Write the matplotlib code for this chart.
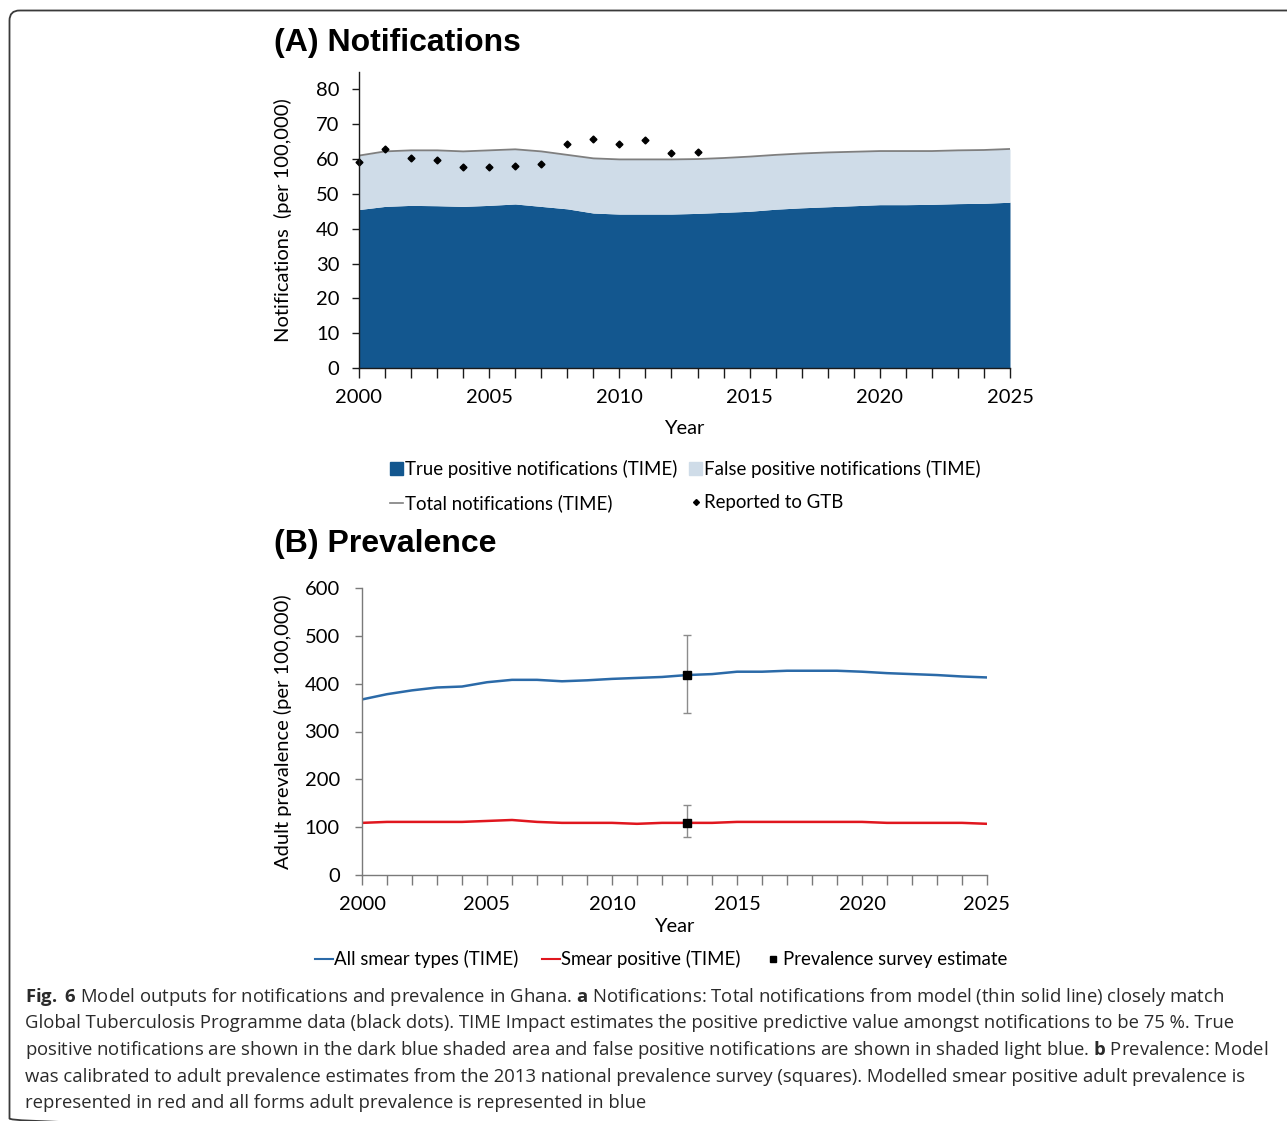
import matplotlib
matplotlib.use('Agg')
import matplotlib.pyplot as plt
from matplotlib.patches import FancyBboxPatch, Patch
from matplotlib.lines import Line2D

W, H = 1287, 1121

# ---- data ----
years = list(range(2000, 2026))
total_notif = [61.0, 62.2, 62.5, 62.5, 62.2, 62.5, 62.8, 62.2, 61.2, 60.2, 59.9, 59.9, 59.9,
               60.0, 60.3, 60.7, 61.2, 61.6, 61.9, 62.1, 62.3, 62.3, 62.3, 62.5, 62.6, 62.9]
true_pos = [45.5, 46.4, 46.7, 46.6, 46.4, 46.7, 47.1, 46.4, 45.7, 44.5, 44.2, 44.2, 44.2,
            44.4, 44.7, 45.0, 45.6, 46.0, 46.3, 46.6, 46.9, 46.9, 47.0, 47.2, 47.3, 47.6]
gtb_years = list(range(2000, 2014))
gtb_reported = [59.1, 62.9, 60.2, 59.7, 57.8, 57.8, 58.1, 58.7, 64.2, 65.9, 64.2, 65.6, 61.8, 62.1]

all_smear = [367, 378, 386, 392, 394, 403, 408, 408, 405, 407, 410, 412, 414,
             418, 420, 425, 425, 427, 427, 427, 425, 422, 420, 418, 415, 413]
smear_pos = [109, 111, 111, 111, 111, 113, 115, 111, 109, 109, 109, 107, 109,
             109, 109, 111, 111, 111, 111, 111, 111, 109, 109, 109, 109, 107]
survey_year = 2013
survey_all = [418, 338, 501]   # estimate, low, high
survey_pos = [109, 79, 147]

tick_labels = [str(y) if y % 5 == 0 else '' for y in years]

dark_blue = '#13578f'
light_blue = '#cfdce8'
line_blue = '#2b6aa8'
line_red = '#e0161e'

plt.rcParams['font.family'] = ['Lato', 'DejaVu Sans']
plt.rcParams['mathtext.fontset'] = 'custom'
plt.rcParams['mathtext.rm'] = 'Open Sans'
plt.rcParams['mathtext.bf'] = 'Open Sans:bold'

fig = plt.figure(figsize=(W / 100, H / 100), dpi=100)

# overlay in pixel coords for border + caption
bg = fig.add_axes([0, 0, 1, 1])
bg.set_xlim(0, W)
bg.set_ylim(H, 0)
bg.axis('off')
bg.add_patch(FancyBboxPatch((9.5, 10.5), 1400, 1118, boxstyle='round,pad=0,rounding_size=10',
                            fill=False, ec='#3a3a3a', lw=1.3, clip_on=False))


def px_axes(left, top, right, bottom):
    return fig.add_axes([left / W, 1 - bottom / H, (right - left) / W, (bottom - top) / H])


def style_axes(ax, spine_color):
    for s in ['top', 'right']:
        ax.spines[s].set_visible(False)
    for s in ['left', 'bottom']:
        ax.spines[s].set_color(spine_color)
        ax.spines[s].set_linewidth(1.0)
    ax.set_xlim(2000, 2025)
    ax.set_xticks(years)
    ax.set_xticklabels(tick_labels)
    ax.tick_params(axis='x', length=7, width=1, color=spine_color, pad=8, labelsize=14.5)
    ax.tick_params(axis='y', length=5, width=1, color=spine_color, pad=9, labelsize=14.5)


# ---- (A) Notifications ----
ax1 = px_axes(359, 72, 1010, 368)
ax1.fill_between(years, 0, true_pos, color=dark_blue, lw=0)
ax1.fill_between(years, true_pos, total_notif, color=light_blue, lw=0)
ax1.plot(years, total_notif, color='#7f7f7f', lw=1.3)
ax1.plot(gtb_years, gtb_reported, 'D', ms=3.5, color='black', clip_on=False)
ax1.set_ylim(0, 85)
ax1.set_yticks(range(0, 81, 10))
style_axes(ax1, '#1a1a1a')
ax1.set_xlabel('Year', fontsize=14.5, va='center')
ax1.xaxis.set_label_coords(0.5, -(428 - 368) / 296)
ax1.set_ylabel('Notifications  (per 100,000)', fontsize=14.5, va='center')
ax1.yaxis.set_label_coords((283 - 359) / 651, 0.5)
fig.text(274 / W, 1 - 43 / H, '(A) Notifications', fontsize=23, fontweight='bold',
         family='Liberation Sans', va='center', ha='left')

h1 = [Patch(color=dark_blue), Line2D([], [], color='#7f7f7f', lw=1.2),
      Patch(color=light_blue), Line2D([], [], ls='none', marker='D', ms=3, color='black')]
l1 = ['True positive notifications (TIME)', 'Total notifications (TIME)',
      'False positive notifications (TIME)', 'Reported to GTB']
fig.legend(h1, l1, ncol=2, loc='upper left', bbox_to_anchor=(390 / W, 1 - 460 / H),
           frameon=False, fontsize=13.4, handlelength=0.72, handleheight=0.72,
           handletextpad=0.1, columnspacing=0.6, labelspacing=0.88,
           borderpad=0, borderaxespad=0)

# ---- (B) Prevalence ----
ax2 = px_axes(362, 588, 987, 875)
ax2.plot(years, all_smear, color=line_blue, lw=1.8)
ax2.plot(years, smear_pos, color=line_red, lw=1.8)
for est, lo, hi in [survey_all, survey_pos]:
    ax2.errorbar(survey_year, est, yerr=[[est - lo], [hi - est]], fmt='s', color='black',
                 ms=6, ecolor='#8c8c8c', elinewidth=1, capsize=3, capthick=1, zorder=5)
ax2.set_ylim(0, 600)
ax2.set_yticks(range(0, 601, 100))
style_axes(ax2, '#7a7a7a')
ax2.tick_params(axis='x', colors='#7a7a7a', labelcolor='black', pad=8)
ax2.tick_params(axis='y', colors='#7a7a7a', labelcolor='black', pad=11)
ax2.set_xlabel('Year', fontsize=14.5, va='center')
ax2.xaxis.set_label_coords(0.5, -(927 - 875) / 287)
ax2.set_ylabel('Adult prevalence (per 100,000)', fontsize=14.5, va='center')
ax2.yaxis.set_label_coords((283 - 362) / 625, 0.5)
fig.text(274 / W, 1 - 544 / H, '(B) Prevalence', fontsize=23, fontweight='bold',
         family='Liberation Sans', va='center', ha='left')

h2 = [Line2D([], [], color=line_blue, lw=1.5), Line2D([], [], color=line_red, lw=1.5),
      Line2D([], [], ls='none', marker='s', ms=5, color='black')]
l2 = ['All smear types (TIME)', 'Smear positive (TIME)', 'Prevalence survey estimate']
fig.legend(h2, l2, ncol=3, loc='upper left', bbox_to_anchor=(315 / W, 1 - 950 / H),
           frameon=False, fontsize=13.4, handlelength=0.95, handletextpad=0.05,
           columnspacing=1.3, borderpad=0, borderaxespad=0)

# ---- caption ----
caption = [
    r'$\mathbf{Fig.}$ $\mathbf{6}$ Model outputs for notifications and prevalence in Ghana. $\mathbf{a}$ '
    r'Notifications: Total notifications from model (thin solid line) closely match',
    'Global Tuberculosis Programme data (black dots). TIME Impact estimates the positive '
    'predictive value amongst notifications to be 75 %. True',
    r'positive notifications are shown in the dark blue shaded area and false positive '
    r'notifications are shown in shaded light blue. $\mathbf{b}$ Prevalence: Model',
    'was calibrated to adult prevalence estimates from the 2013 national prevalence survey '
    '(squares). Modelled smear positive adult prevalence is',
    'represented in red and all forms adult prevalence is represented in blue',
]
for i, line in enumerate(caption):
    bg.text(25, 1002 + i * 26.5, line, family='Open Sans', fontsize=13.3, color='#2a2a2a',
            va='baseline', ha='left')

fig.savefig('out.png', dpi=100)
